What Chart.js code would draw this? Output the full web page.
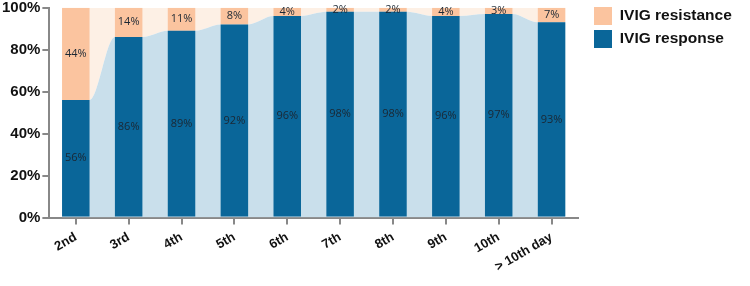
<!DOCTYPE html>
<html>
<head>
<meta charset="utf-8">
<script src="https://cdn.jsdelivr.net/npm/chart.js@4"></script>
<style>
  html, body { margin: 0; padding: 0; background: #fff; }
  #wrap { width: 750px; height: 286px; }
</style>
</head>
<body>
<div id="wrap"><canvas id="chart"></canvas></div>
<script>
const days = ['2nd', '3rd', '4th', '5th', '6th', '7th', '8th', '9th', '10th', '> 10th day'];
const response = [56, 86, 89, 92, 96, 98, 98, 96, 97, 93];
const resistance = [44, 14, 11, 8, 4, 2, 2, 4, 3, 7];
const yTicks = [0, 20, 40, 60, 80, 100];

// background band follows the response level, flat across each bar
const band = [];
response.forEach((v, i) => {
    band.push({ x: i - 0.26, y: v });
    band.push({ x: i + 0.26, y: v });
});

const segLabels = {
    id: 'segLabels',
    afterDatasetsDraw(chart) {
        const ctx = chart.ctx;
        ctx.save();
        ctx.font = '11px "Open Sans"';
        ctx.fillStyle = '#1b2733';
        ctx.textAlign = 'center';
        ctx.textBaseline = 'middle';
        chart.data.datasets.forEach((ds, di) => {
            if (ds.type === 'line') return;
            chart.getDatasetMeta(di).data.forEach((bar, i) => {
                const mid = (bar.y + bar.base) / 2;
                ctx.fillText(ds.data[i] + '%', bar.x, mid);
            });
        });
        ctx.restore();
    }
};

// keep the legend off to the right with a gap like the original
const legendPlace = {
    id: 'legendPlace',
    beforeLayout(chart) {
        const lg = chart.legend;
        if (lg && !lg._patched) {
            const fit = lg.fit;
            lg.fit = function () { fit.call(this); this.width = 172; };
            lg._patched = true;
        }
    },
    afterLayout(chart) {
        const lg = chart.legend;
        if (lg) { lg.left = 589; lg.top = 2; }
    }
};

const ctx = document.getElementById('chart').getContext('2d');
new Chart(ctx, {
    data: {
        labels: days,
        datasets: [
            {
                type: 'bar', label: 'IVIG response', data: response,
                backgroundColor: '#0a6699', stack: 'bars', order: 1, grouped: false,
                barPercentage: 0.52, categoryPercentage: 1
            },
            {
                type: 'bar', label: 'IVIG resistance', data: resistance,
                backgroundColor: '#fbc49f', stack: 'bars', order: 1, grouped: false,
                barPercentage: 0.52, categoryPercentage: 1
            },
            {
                type: 'line', label: 'band', data: band, xAxisID: 'xl',
                stack: 'b1', order: 5, fill: 'origin',
                backgroundColor: '#c9dfeb', borderWidth: 0, pointRadius: 0,
                cubicInterpolationMode: 'monotone'
            },
            {
                type: 'line', label: 'top', data: band, xAxisID: 'xl',
                stack: 'b2', order: 6, fill: 'end',
                backgroundColor: '#fdf0e5', borderWidth: 0, pointRadius: 0,
                cubicInterpolationMode: 'monotone'
            }
        ]
    },
    options: {
        responsive: true,
        maintainAspectRatio: false,
        animation: false,
        layout: { padding: { top: 0, right: 0, bottom: 6, left: 0 } },
        scales: {
            x: {
                type: 'category', stacked: true, offset: true,
                grid: { offset: false, drawOnChartArea: false, drawTicks: true, tickLength: 7, color: '#888', lineWidth: 2 },
                border: { display: true, color: '#888', width: 2 },
                ticks: {
                    color: '#111', minRotation: 30, maxRotation: 30, padding: 5,
                    font: { family: 'Arial', size: 13, weight: 'bold' }
                }
            },
            xl: {
                type: 'linear', display: false, min: -0.5, max: 9.5
            },
            y: {
                stacked: true, min: 0, max: 100,
                afterBuildTicks(axis) { axis.ticks = yTicks.map(v => ({ value: v })); },
                grid: { drawOnChartArea: false, drawTicks: true, tickLength: 7, color: '#888', lineWidth: 2 },
                border: { display: true, color: '#888', width: 2 },
                ticks: {
                    color: '#111', padding: 2,
                    font: { family: 'Arial', size: 15, weight: 'bold', lineHeight: 0.75 },
                    callback: v => v + '%'
                }
            }
        },
        plugins: {
            tooltip: { enabled: false },
            legend: {
                position: 'right', align: 'start', reverse: true,
                labels: {
                    boxWidth: 18, boxHeight: 18, padding: 5, color: '#111',
                    font: { family: 'Arial', size: 15.5, weight: 'bold' },
                    filter: item => item.text.startsWith('IVIG')
                }
            }
        }
    },
    plugins: [segLabels, legendPlace]
});
</script>
</body>
</html>
